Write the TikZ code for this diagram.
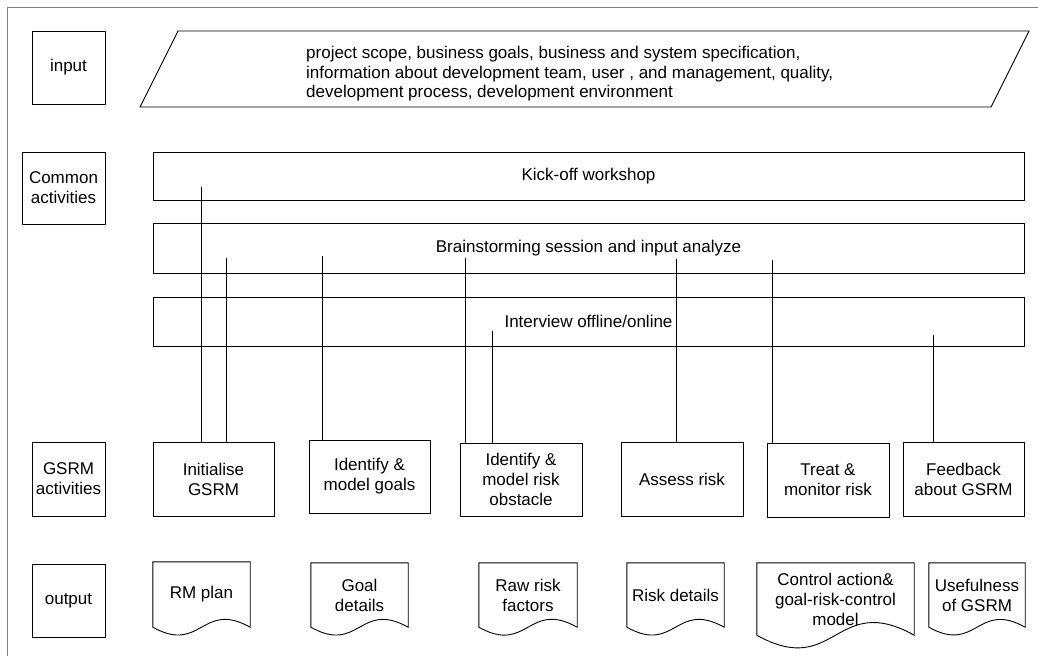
\documentclass[tikz,border=0pt]{standalone}
\usepackage{fontspec}
\setmainfont{Liberation Sans}
\usetikzlibrary{calc}
\definecolor{framegray}{RGB}{128,128,128}
\tikzset{
  lw/.style={draw=black, line width=0.9pt},
  boxnode/.style={lw, rectangle, inner sep=0pt, align=center},
  docnode/.style={rectangle, draw=none, inner sep=0pt, align=center},
  conn/.style={draw=black, line width=0.9pt},
}
\newcommand\gsrmdoc[6]{%
  \node[docnode, minimum width=#4pt, minimum height=#5pt] (#1) at (#2,#3) {#6};
  \draw[lw] (#1.north west) -- (#1.north east) -- (#1.south east)
    .. controls ($(#1.south)+(0,{-0.28*#4})$) and ($(#1.south)+(0,{0.28*#4})$) .. (#1.south west) -- cycle;
}
\begin{document}
\begin{tikzpicture}[x=1pt, y=-1pt, font=\fontsize{17}{20}\selectfont]
\useasboundingbox (0,0) rectangle (1038,656);
\fill[white] (0,0) rectangle (1038,656);
% outer frame
\draw[framegray, line width=1.5pt] (7.5,656) -- (7.5,7.5) -- (1038,7.5);

% row labels
\node[boxnode, minimum width=73pt, minimum height=73pt] (lin) at (68.5,67.5) {input};
\node[boxnode, minimum width=83pt, minimum height=72pt] (lcom) at (63.5,188) {Common\\activities};
\node[boxnode, minimum width=73pt, minimum height=74pt] (lgsrm) at (68.5,479) {GSRM\\activities};
\node[boxnode, minimum width=73pt, minimum height=73pt] (lout) at (68.5,600.5) {output};

% input parallelogram
\draw[lw] (178,31) -- (1029,31) -- (991,107) -- (140,107) -- cycle;
\node[anchor=west, align=left, inner sep=0pt, font=\fontsize{17}{19.5}\selectfont] (intext) at (306,74)
  {project scope, business goals, business and system specification,\\
   information about development team, user , and management, quality,\\
   development process, development environment};

% common activities
\node[boxnode, minimum width=871pt, minimum height=48pt] (kick) at (588.5,176) {Kick-off workshop};
\node[boxnode, minimum width=871pt, minimum height=50pt] (brain) at (588.5,248) {Brainstorming session and input analyze};
\node[boxnode, minimum width=871pt, minimum height=49pt] (inter) at (588.5,321.5) {Interview offline/online};

% GSRM activities
\node[boxnode, minimum width=121pt, minimum height=74pt] (init) at (213.5,479) {Initialise\\GSRM};
\node[boxnode, minimum width=121pt, minimum height=73pt] (goals) at (369.5,476.5) {Identify \&\\model goals};
\node[boxnode, minimum width=122pt, minimum height=73pt] (idrisk) at (521,479.5) {Identify \&\\model risk\\obstacle};
\node[boxnode, minimum width=122pt, minimum height=74pt] (assess) at (682,479) {Assess risk};
\node[boxnode, minimum width=122pt, minimum height=74pt] (treat) at (828,480) {Treat \&\\monitor risk};
\node[boxnode, minimum width=121pt, minimum height=74pt] (feed) at (963.5,479) {Feedback\\about GSRM};

% connector free ends inside the common-activity boxes
\coordinate (c1) at (201,187);
\coordinate (c2) at (226,258);
\coordinate (c3) at (322,256);
\coordinate (c4) at (465,258);
\coordinate (c5) at (492,331);
\coordinate (c6) at (676,259);
\coordinate (c7) at (772,260);
\coordinate (c8) at (933,335);
\draw[conn] (c1) -- (c1 |- init.north);
\draw[conn] (c2) -- (c2 |- init.north);
\draw[conn] (c3) -- (c3 |- goals.north);
\draw[conn] (c4) -- (c4 |- idrisk.north);
\draw[conn] (c5) -- (c5 |- idrisk.north);
\draw[conn] (c6) -- (c6 |- assess.north);
\draw[conn] (c7) -- (c7 |- treat.north);
\draw[conn] (c8) -- (c8 |- feed.north);

% outputs
\gsrmdoc{rm}{201.5}{594.5}{97}{65}{RM plan}
\gsrmdoc{goal}{359.5}{595}{97}{64}{Goal\\details}
\gsrmdoc{raw}{528}{595}{98}{64}{Raw risk\\factors}
\gsrmdoc{riskd}{675.5}{595}{97}{64}{Risk details}
\gsrmdoc{ctrl}{835.5}{599}{157}{72}{Control action\&\\goal-risk-control\\model}
\gsrmdoc{useful}{977}{595}{96}{64}{Usefulness\\of GSRM}
\end{tikzpicture}
\end{document}
